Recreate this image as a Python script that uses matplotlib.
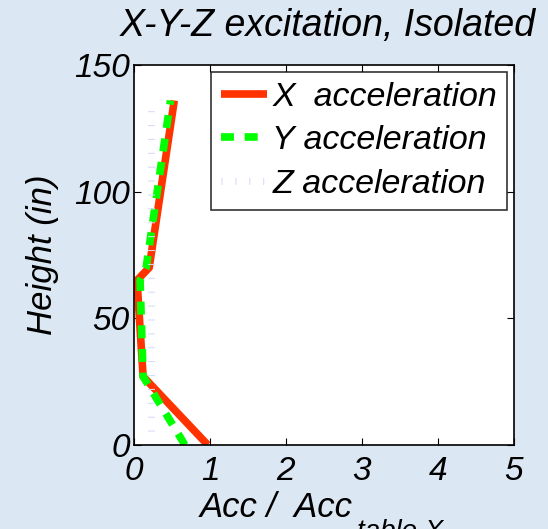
import numpy as np
import matplotlib.pyplot as plt

plt.rcParams['font.family'] = ['Liberation Sans', 'DejaVu Sans']
plt.rcParams['font.style'] = 'italic'

# peak acceleration ratio along the building height
height = [0, 27, 65, 70, 136]
acc_x = [0.97, 0.12, 0.04, 0.20, 0.53]
acc_y = [0.67, 0.12, 0.08, 0.16, 0.48]
acc_z = [0.23, 0.23, 0.23, 0.23, 0.23]

bg = '#dbe7f3'
fig = plt.figure(figsize=(5.48, 5.29), dpi=100, facecolor=bg)
ax = fig.add_axes([0.2445, 0.159, 0.6935, 0.718])

ax.plot(acc_x, height, color='#ff3300', lw=5.5, solid_capstyle='butt',
        label='X  acceleration')
ax.plot(acc_y, height, color='#00ff00', lw=5.5, linestyle=(0, (1.7, 1.4)),
        dash_capstyle='butt', label='Y acceleration')
ax.plot(acc_z, height, color='#d6dbf6', lw=5, linestyle=(0, (0.15, 1.85)),
        dash_capstyle='butt', label='Z acceleration')

ax.set_xlim(0, 5)
ax.set_ylim(0, 150)
ax.set_xticks(range(6))
ax.set_yticks([0, 50, 100, 150])
ax.tick_params(direction='in', top=True, right=True, length=5, width=0.8,
               labelsize=24)
ax.tick_params(axis='x', pad=8)
ax.tick_params(axis='y', pad=3)
for s in ax.spines.values():
    s.set_linewidth(1.2)

ax.set_title('X-Y-Z excitation, Isolated', fontsize=27, pad=21, x=0.51)
ax.set_ylabel('Height (in)', fontsize=25, labelpad=11)

# x label with a dropped subscript
fig.text(0.365, 0.022, 'Acc /  Acc', fontsize=25, va='baseline')
fig.text(0.652, 0.018, 'table X', fontsize=20, va='top')

leg = ax.legend(loc='upper right', fontsize=24.5, frameon=True, fancybox=False,
                edgecolor='black', handlelength=1.35, handletextpad=0.15,
                borderpad=0.3, labelspacing=0.36, borderaxespad=0.2)
leg.get_frame().set_linewidth(1.2)

fig.savefig('out.png', dpi=100, facecolor=bg)
